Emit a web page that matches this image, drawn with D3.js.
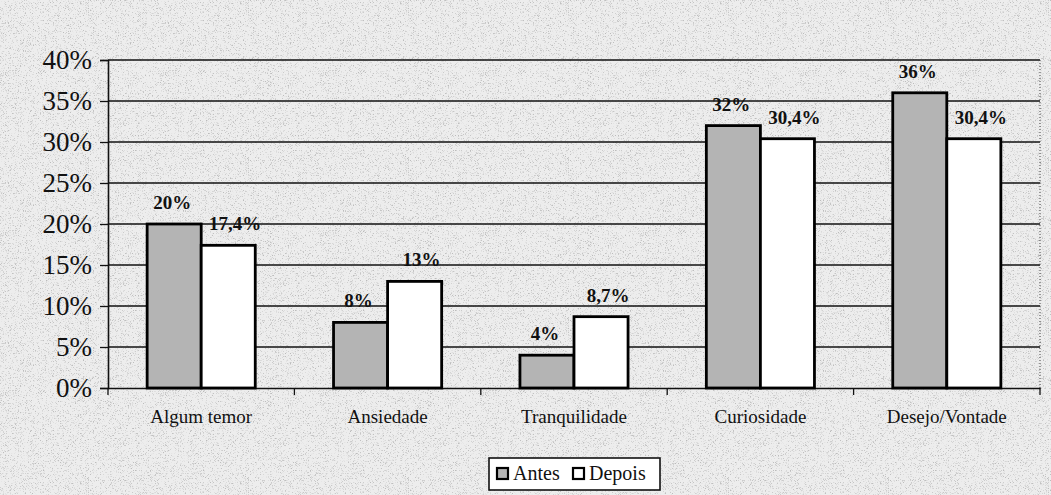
<!DOCTYPE html>
<html>
<head>
<meta charset="utf-8">
<script src="https://cdn.jsdelivr.net/npm/d3@7"></script>
<style>
  body { margin: 0; background: #e6e6e6; }
  svg { display: block; }
</style>
</head>
<body>
<svg></svg>
<script>
const width = 1051;
const height = 495;

const categories = ['Algum temor', 'Ansiedade', 'Tranquilidade', 'Curiosidade', 'Desejo/Vontade'];
const antes = [20, 8, 4, 32, 36];
const depois = [17.4, 13, 8.7, 30.4, 30.4];
const antesLabels = ['20%', '8%', '4%', '32%', '36%'];
const depoisLabels = ['17,4%', '13%', '8,7%', '30,4%', '30,4%'];
const yTicks = [0, 5, 10, 15, 20, 25, 30, 35, 40];
const seriesNames = ['Antes', 'Depois'];

const serif = "'Liberation Serif', 'Times New Roman', serif";
const margin = {top: 60, right: 11, bottom: 107, left: 108};
const svg = d3.select('svg').attr('width', width).attr('height', height);

// speckled scan look
const defs = svg.append('defs');
const noise = defs.append('filter').attr('id', 'noise')
    .attr('filterUnits', 'userSpaceOnUse').attr('x', 0).attr('y', 0).attr('width', width).attr('height', height);
noise.append('feTurbulence').attr('type', 'fractalNoise').attr('baseFrequency', 1.6).attr('numOctaves', 1).attr('seed', 7);
noise.append('feColorMatrix').attr('type', 'matrix')
    .attr('values', '0 0 0 0 0.5  0 0 0 0 0.5  0 0 0 0 0.5  5 0 0 0 -2.75');

svg.append('rect').attr('width', width).attr('height', height).attr('fill', '#ededed');
svg.append('rect').attr('width', width).attr('height', height).attr('filter', 'url(#noise)');

const x = d3.scaleBand().domain(categories).range([margin.left, width - margin.right]).paddingInner(0.42).paddingOuter(0.21);
const x1 = d3.scaleBand().domain(seriesNames).range([0, x.bandwidth()]);
const y = d3.scaleLinear().domain([0, 40]).range([height - margin.bottom, margin.top]);

const outer = d3.scaleBand().domain(categories).range([margin.left, width - margin.right]);

// gridlines
svg.append('g').selectAll('line').data(yTicks.slice(1)).join('line')
    .attr('x1', margin.left).attr('x2', width - margin.right)
    .attr('y1', d => y(d)).attr('y2', d => y(d))
    .attr('stroke', '#111').attr('stroke-width', 1.3);

// right border dotted
svg.append('line')
    .attr('x1', width - margin.right).attr('x2', width - margin.right)
    .attr('y1', y(40)).attr('y2', y(0))
    .attr('stroke', '#444').attr('stroke-width', 1).attr('stroke-dasharray', '1,2');

// y axis
const yAxis = svg.append('g').attr('transform', `translate(${margin.left},0)`)
    .call(d3.axisLeft(y).tickValues(yTicks).tickSize(8).tickPadding(8).tickFormat(d => d + '%'));
yAxis.select('.domain').attr('stroke', '#111').attr('stroke-width', 1.6);
yAxis.selectAll('.tick line').attr('stroke', '#111').attr('stroke-width', 1.3);
yAxis.selectAll('text').attr('font-family', serif).attr('font-size', 27).attr('fill', '#111');

// x axis
const xAxis = svg.append('g').attr('transform', `translate(0,${y(0)})`)
    .call(d3.axisBottom(outer).tickSize(0).tickPadding(22));
xAxis.select('.domain').attr('stroke', '#111').attr('stroke-width', 1.6);
xAxis.selectAll('text').attr('font-family', serif).attr('font-size', 19).attr('fill', '#111');
svg.append('g').selectAll('line').data(d3.range(categories.length + 1)).join('line')
    .attr('x1', i => margin.left + i * outer.step()).attr('x2', i => margin.left + i * outer.step())
    .attr('y1', y(0)).attr('y2', y(0) + 7)
    .attr('stroke', '#111').attr('stroke-width', 1.3);

// bars
const rows = categories.map((c, i) => ({c, vals: [
    {s: 'Antes', v: antes[i], label: antesLabels[i]},
    {s: 'Depois', v: depois[i], label: depoisLabels[i]}
]}));
const groups = svg.append('g').selectAll('g').data(rows).join('g')
    .attr('transform', d => `translate(${x(d.c)},0)`);
groups.selectAll('rect').data(d => d.vals).join('rect')
    .attr('x', d => x1(d.s)).attr('width', x1.bandwidth())
    .attr('y', d => y(d.v)).attr('height', d => y(0) - y(d.v))
    .attr('fill', d => d.s === 'Antes' ? '#b4b4b4' : '#fff')
    .attr('stroke', '#000').attr('stroke-width', 2.8);
groups.selectAll('text').data(d => d.vals).join('text')
    .attr('x', d => x1(d.s) + x1.bandwidth() / 2 + (d.s === 'Depois' ? 7 : -2))
    .attr('y', d => y(d.v) - 15)
    .attr('text-anchor', 'middle')
    .attr('font-family', serif).attr('font-weight', 'bold').attr('font-size', 19)
    .attr('fill', '#111')
    .text(d => d.label);

// legend
const legend = svg.append('g').attr('transform', 'translate(489,458)');
legend.append('rect').attr('width', 171).attr('height', 32).attr('fill', '#fff').attr('stroke', '#111').attr('stroke-width', 1.6);
const items = legend.selectAll('g').data(seriesNames).join('g')
    .attr('transform', (d, i) => `translate(${i === 0 ? 8 : 84},10)`);
items.append('rect').attr('width', 11).attr('height', 11)
    .attr('fill', (d, i) => i === 0 ? '#b4b4b4' : '#fff').attr('stroke', '#000').attr('stroke-width', 2.2);
items.append('text').attr('x', 16).attr('y', 12)
    .attr('font-family', serif).attr('font-size', 20).attr('fill', '#111')
    .text(d => d);
</script>
</body>
</html>
